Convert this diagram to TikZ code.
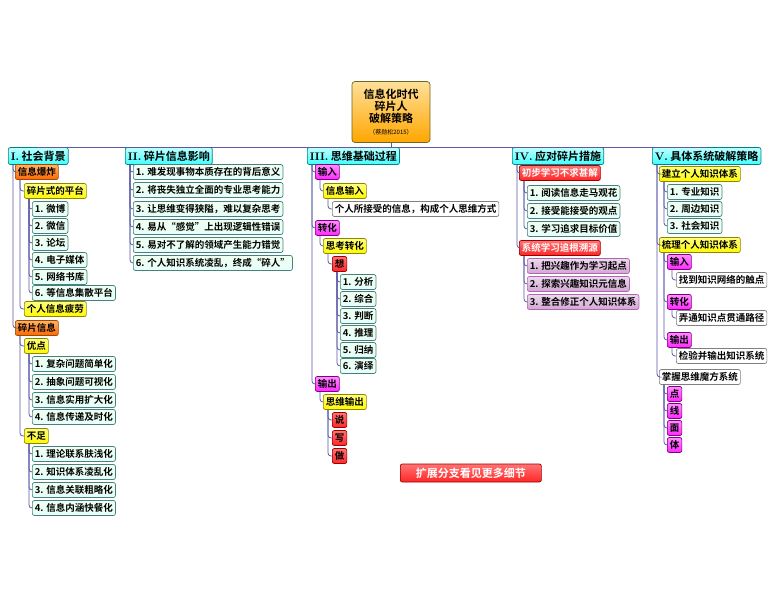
\documentclass[tikz,border=0pt]{standalone}
\usepackage{fontspec}
\setmainfont{Noto Sans CJK SC}[BoldFont={Noto Sans CJK SC Bold}]
\newfontfamily\lmr{Latin Modern Roman}
\begin{document}
\begin{tikzpicture}[x=1pt,y=-1pt,
  box/.style={draw=#1, rounded corners=2pt, anchor=west, inner xsep=2.5pt, inner ysep=1.5pt, minimum height=15pt, font=\fontsize{9.5}{10}\selectfont\bfseries, line width=0.7pt},
  gbox/.style={box={teal!45!gray}, top color=green!6, bottom color=green!22!cyan!10},
  cbox/.style={box={teal}, top color=cyan!25, bottom color=cyan!75, minimum height=17pt, font=\fontsize{11}{12}\selectfont\bfseries},
  obox/.style={box={orange!60!black}, top color=orange!60, bottom color=orange!80!red},
  ybox/.style={box={olive}, top color=yellow!50, bottom color=yellow!95!orange},
  mbox/.style={box={violet}, top color=magenta!45, bottom color=magenta!85},
  rbox/.style={box={red!60!black}, top color=red!55, bottom color=red!85},
  rwbox/.style={rbox, text=white},
  pbox/.style={box={violet!60}, top color=violet!15, bottom color=violet!35},
  wbox/.style={box={gray}, fill=white},
  link/.style={draw=gray!70!blue, line width=0.8pt, rounded corners=3pt}]
\useasboundingbox (0,0) rectangle (780,599);
\newcommand\cn[2]{\draw[link] ([xshift=5pt]#1.south west) |- (#2.west);}
% root
\node[draw=olive!70!black, rounded corners=3pt, top color=yellow!40!orange!40, bottom color=orange!70!yellow, line width=0.7pt, align=center, minimum width=78pt, minimum height=61pt, inner sep=1pt] (root) at (391,112) {\fontsize{11}{13}\selectfont\bfseries 信息化时代\\\fontsize{11}{13}\selectfont\bfseries 碎片人\\\fontsize{11}{13}\selectfont\bfseries 破解策略\\\fontsize{6}{8}\selectfont （蔡勋松2015）};
% main branches
\node[cbox] (I) at (8,156) {{\lmr I.} 社会背景};
\node[cbox] (II) at (125,156) {{\lmr II.} 碎片信息影响};
\node[cbox] (III) at (307,156) {{\lmr III.} 思维基础过程};
\node[cbox] (IV) at (512,156) {{\lmr IV.} 应对碎片措施};
\node[cbox] (V) at (652,156) {{\lmr V.} 具体系统破解策略};
\draw[link] (root.south) -- (root.south |- I.north);
\draw[link] (I.north) -- (V.north);
% Branch I
\node[obox] (a1) at (15,172) {信息爆炸};
\node[ybox] (a11) at (24,191) {碎片式的平台};
\node[gbox] (b1) at (32,209) {1. 微博};
\node[gbox] (b2) at (32,226) {2. 微信};
\node[gbox] (b3) at (32,243) {3. 论坛};
\node[gbox] (b4) at (32,260) {4. 电子媒体};
\node[gbox] (b5) at (32,277) {5. 网络书库};
\node[gbox] (b6) at (32,293) {6. 等信息集散平台};
\node[ybox] (a12) at (24,309) {个人信息疲劳};
\node[obox] (a2) at (15,328) {碎片信息};
\node[ybox] (a21) at (24,346) {优点};
\node[gbox] (c1) at (32,364) {1. 复杂问题简单化};
\node[gbox] (c2) at (32,382) {2. 抽象问题可视化};
\node[gbox] (c3) at (32,400) {3. 信息实用扩大化};
\node[gbox] (c4) at (32,417) {4. 信息传递及时化};
\node[ybox] (a22) at (24,436) {不足};
\node[gbox] (d1) at (32,454) {1. 理论联系肤浅化};
\node[gbox] (d2) at (32,472) {2. 知识体系凌乱化};
\node[gbox] (d3) at (32,490) {3. 信息关联粗略化};
\node[gbox] (d4) at (32,508) {4. 信息内涵快餐化};
\foreach \c in {a1,a2} {\cn{I}{\c}}
\foreach \c in {a11,a12} {\cn{a1}{\c}}
\foreach \c in {b1,b2,b3,b4,b5,b6} {\cn{a11}{\c}}
\foreach \c in {a21,a22} {\cn{a2}{\c}}
\foreach \c in {c1,c2,c3,c4} {\cn{a21}{\c}}
\foreach \c in {d1,d2,d3,d4} {\cn{a22}{\c}}
% Branch II
\node[gbox] (e1) at (133,172) {1. 难发现事物本质存在的背后意义};
\node[gbox] (e2) at (133,190) {2. 将丧失独立全面的专业思考能力};
\node[gbox] (e3) at (133,209) {3. 让思维变得狭隘，难以复杂思考};
\node[gbox] (e4) at (133,227) {4. 易从“感觉”上出现逻辑性错误};
\node[gbox] (e5) at (133,245) {5. 易对不了解的领域产生能力错觉};
\node[gbox] (e6) at (133,263) {6. 个人知识系统凌乱，终成“碎人”};
\foreach \c in {e1,e2,e3,e4,e5,e6} {\cn{II}{\c}}
% Branch III
\node[mbox] (f1) at (315,172) {输入};
\node[ybox] (f11) at (323,191) {信息输入};
\node[wbox] (f111) at (332,209) {个人所接受的信息，构成个人思维方式};
\node[mbox] (f2) at (315,228) {转化};
\node[ybox] (f21) at (323,246) {思考转化};
\node[rbox] (f211) at (332,264) {想};
\node[gbox] (g1) at (340,282) {1. 分析};
\node[gbox] (g2) at (340,299) {2. 综合};
\node[gbox] (g3) at (340,316) {3. 判断};
\node[gbox] (g4) at (340,333) {4. 推理};
\node[gbox] (g5) at (340,350) {5. 归纳};
\node[gbox] (g6) at (340,366) {6. 演绎};
\node[mbox] (f3) at (315,384) {输出};
\node[ybox] (f31) at (323,402) {思维输出};
\node[rbox] (h1) at (332,420) {说};
\node[rbox] (h2) at (332,438) {写};
\node[rbox] (h3) at (332,456) {做};
\foreach \c in {f1,f2,f3} {\cn{III}{\c}}
\cn{f1}{f11} \cn{f11}{f111} \cn{f2}{f21} \cn{f21}{f211}
\foreach \c in {g1,g2,g3,g4,g5,g6} {\cn{f211}{\c}}
\cn{f3}{f31}
\foreach \c in {h1,h2,h3} {\cn{f31}{\c}}
% Branch IV
\node[rwbox] (k1) at (519,173) {初步学习不求甚解};
\node[gbox] (k11) at (527,193) {1. 阅读信息走马观花};
\node[gbox] (k12) at (527,211) {2. 接受能接受的观点};
\node[gbox] (k13) at (527,229) {3. 学习追求目标价值};
\node[rwbox] (k2) at (519,248) {系统学习追根溯源};
\node[pbox] (k21) at (527,266) {1. 把兴趣作为学习起点};
\node[pbox] (k22) at (527,284) {2. 探索兴趣知识元信息};
\node[pbox] (k23) at (527,302) {3. 整合修正个人知识体系};
\cn{IV}{k1} \cn{IV}{k2}
\foreach \c in {k11,k12,k13} {\cn{k1}{\c}}
\foreach \c in {k21,k22,k23} {\cn{k2}{\c}}
% Branch V
\node[ybox] (m1) at (659,174) {建立个人知识体系};
\node[gbox] (m11) at (667,192) {1. 专业知识};
\node[gbox] (m12) at (667,209) {2. 周边知识};
\node[gbox] (m13) at (667,226) {3. 社会知识};
\node[ybox] (m2) at (659,245) {梳理个人知识体系};
\node[mbox] (n1) at (667,262) {输入};
\node[wbox] (n11) at (676,280) {找到知识网络的触点};
\node[mbox] (n2) at (667,302) {转化};
\node[wbox] (n21) at (676,318) {弄通知识点贯通路径};
\node[mbox] (n3) at (667,340) {输出};
\node[wbox] (n31) at (676,356) {检验并输出知识系统};
\node[wbox] (m3) at (659,377) {掌握思维魔方系统};
\node[mbox] (p1) at (667,394) {点};
\node[mbox] (p2) at (667,411) {线};
\node[mbox] (p3) at (667,428) {面};
\node[mbox] (p4) at (667,445) {体};
\foreach \c in {m1,m2,m3} {\cn{V}{\c}}
\foreach \c in {m11,m12,m13} {\cn{m1}{\c}}
\foreach \c in {n1,n2,n3} {\cn{m2}{\c}}
\cn{n1}{n11} \cn{n2}{n21} \cn{n3}{n31}
\foreach \c in {p1,p2,p3,p4} {\cn{m3}{\c}}
% banner
\node[rwbox, minimum width=141pt, minimum height=18pt, font=\fontsize{11}{12}\selectfont\bfseries] (ban) at (400,473) {扩展分支看见更多细节};
\end{tikzpicture}
\end{document}
